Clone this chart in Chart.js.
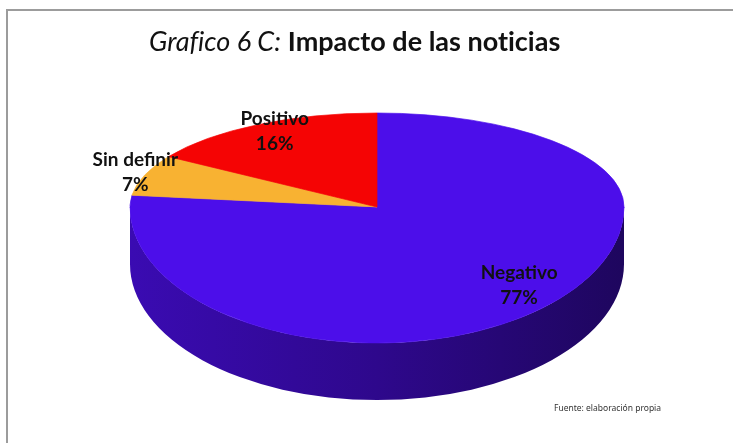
<!DOCTYPE html>
<html lang="es">
<head>
<meta charset="utf-8">
<title>Grafico 6 C: Impacto de las noticias</title>
<script src="https://cdn.jsdelivr.net/npm/chart.js@4.4.1/dist/chart.umd.min.js"></script>
<style>
  html, body { margin: 0; padding: 0; background: #fff; }
  #wrap { position: relative; width: 733px; height: 443px; overflow: hidden; }
  #frame {
    position: absolute; left: 6px; top: 9px; width: 800px; height: 500px;
    border-top: 2px solid #9c9c9c; border-left: 2px solid #9c9c9c;
  }
  #chart-box { position: absolute; left: 0; top: 0; width: 733px; height: 443px; }
  #title {
    position: absolute; left: 149px; top: 24px; white-space: nowrap;
    font-family: Lato, "Noto Sans", sans-serif; font-size: 27px; color: #111;
    font-variant-ligatures: none;
  }
  #title i { font-weight: 400; }
  #title b { font-weight: 700; }
  #source {
    position: absolute; left: 554px; top: 402px; white-space: nowrap;
    font-family: "Noto Sans", sans-serif; font-size: 8.5px; color: #333;
  }
</style>
</head>
<body>
<div id="wrap">
  <div id="frame"></div>
  <div id="chart-box"><canvas id="chart-impacto"></canvas></div>
  <div id="title"><i>Grafico 6 C:</i> <b>Impacto de las noticias</b></div>
  <div id="source">Fuente: elaboración propia</div>
</div>
<script>
// Datos del gráfico (porcentajes)
const CATEGORIES = ['Negativo', 'Sin definir', 'Positivo'];
const VALUES = [77, 7, 16];
const COLORS = ['#4c0eea', '#f8b232', '#f50404'];

function shade(hex, f) {
  const n = parseInt(hex.slice(1), 16);
  const r = Math.round(((n >> 16) & 255) * f);
  const g = Math.round(((n >> 8) & 255) * f);
  const b = Math.round((n & 255) * f);
  return `rgb(${r},${g},${b})`;
}

// Dibuja el pastel "3D": cara superior achatada (con más altura hacia el frente,
// como la perspectiva de Excel) y el canto frontal con degradado.
const pie3d = {
  id: 'pie3d',
  beforeDatasetDraw(chart, args, opts) {
    const ctx = chart.ctx;
    const arcs = args.meta.data;
    const { x: cx, y: cy, outerRadius: r } = arcs[0];
    const syTop = opts.topHeight / r;
    const syBot = opts.bottomHeight / r;
    const ryB = r * syBot;

    // canto frontal (sólo la mitad de abajo se ve)
    arcs.forEach((arc, i) => {
      [0, 2 * Math.PI].forEach(shift => {
        const s = Math.max(arc.startAngle, shift);
        const e = Math.min(arc.endAngle, shift + Math.PI);
        if (e <= s) return;
        const grad = ctx.createLinearGradient(cx - r, 0, cx + r, 0);
        grad.addColorStop(0, shade(COLORS[i], 0.76));
        grad.addColorStop(0.5, shade(COLORS[i], 0.6));
        grad.addColorStop(1, shade(COLORS[i], 0.4));
        ctx.beginPath();
        ctx.ellipse(cx, cy, r, ryB, 0, s, e);
        ctx.ellipse(cx, cy + opts.depth, r, ryB, 0, e, s, true);
        ctx.closePath();
        ctx.fillStyle = grad;
        ctx.fill();
      });
    });

    const drawHalf = (y0, y1, sy) => {
      ctx.save();
      ctx.beginPath();
      ctx.rect(0, y0, chart.width, y1 - y0);
      ctx.clip();
      ctx.translate(cx, cy);
      ctx.scale(1, sy);
      ctx.translate(-cx, -cy);
      arcs.forEach(a => a.draw(ctx));
      ctx.restore();
    };
    drawHalf(0, cy + 1, syTop);
    drawHalf(cy, chart.height, syBot);
    return false;
  },
  afterDatasetsDraw(chart, args, opts) {
    const ctx = chart.ctx;
    const arcs = chart.getDatasetMeta(0).data;
    const { x: cx, y: cy, outerRadius: r } = arcs[0];
    const total = VALUES.reduce((s, v) => s + v, 0);
    ctx.save();
    ctx.fillStyle = '#111';
    ctx.font = opts.font;
    ctx.textAlign = 'center';
    ctx.textBaseline = 'middle';
    arcs.forEach((arc, i) => {
      const mid = (arc.startAngle + arc.endAngle) / 2;
      const [fx, fy] = opts.labelRadius[i];
      const sin = Math.sin(mid);
      const x = cx + Math.cos(mid) * r * fx;
      const y = cy + sin * r * fy * (sin < 0 ? opts.topHeight : opts.bottomHeight) / r;
      ctx.fillText(CATEGORIES[i], x, y - opts.lineHeight / 2);
      ctx.fillText(Math.round(VALUES[i] / total * 100) + '%', x, y + opts.lineHeight / 2);
    });
    ctx.restore();
  }
};

new Chart(document.getElementById('chart-impacto'), {
  type: 'pie',
  data: {
    labels: CATEGORIES,
    datasets: [{
      data: VALUES,
      backgroundColor: COLORS,
      borderColor: COLORS,
      borderWidth: 1,
      radius: 247
    }]
  },
  options: {
    responsive: true,
    maintainAspectRatio: false,
    animation: false,
    events: [],
    layout: { padding: { left: 21, right: 0, top: 0, bottom: 29 } },
    plugins: {
      legend: { display: false },
      tooltip: { enabled: false },
      pie3d: {
        topHeight: 94,
        bottomHeight: 136,
        depth: 57,
        font: 'bold 19px Lato, "Noto Sans", sans-serif',
        lineHeight: 25,
        labelRadius: [[0.87, 0.77], [1.04, 1.1], [0.86, 0.92]]
      }
    }
  },
  plugins: [pie3d]
});
</script>
</body>
</html>
